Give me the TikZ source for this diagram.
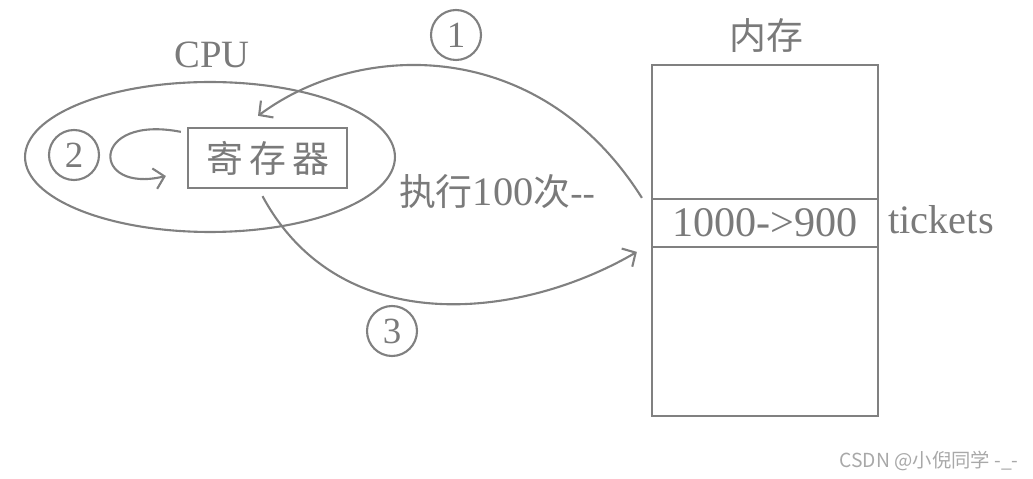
\documentclass[tikz,border=0pt]{standalone}
\usepackage{fontspec}
\usepackage{xcolor}
\usepackage{tikz}
\usetikzlibrary{arrows.meta,shapes.geometric}
\setmainfont{Liberation Serif}
\newfontfamily\cjk{Noto Sans CJK SC}
\definecolor{linegray}{HTML}{808080}
\definecolor{textgray}{HTML}{7A7A7A}
\definecolor{markgray}{HTML}{A8A8A8}
\tikzset{
  lbl/.style={text=textgray,font=\fontsize{22}{24}\selectfont,inner sep=0pt},
  numcirc/.style={circle,draw=linegray,line width=1.2pt,minimum size=1cm,inner sep=0pt,
    text=textgray,font=\fontsize{21}{22}\selectfont},
  cell/.style={draw=linegray,line width=1.3pt,minimum width=4.52cm,inner sep=0pt},
  conn/.style={linegray,line width=1.2pt,-{Straight Barb[length=0.2cm,width=0.42cm]}}
}

\begin{document}
\begin{tikzpicture}[x=0.02cm,y=-0.02cm]
    \useasboundingbox (0,0) rectangle (1033,479);
    % cpu side
    \node[ellipse,draw=linegray,line width=1.2pt,minimum width=7.4cm,minimum height=3cm] (cpu) at (210,157) {};
    \node[lbl] (cpulbl) at (212,55) {CPU};
    \node[draw=linegray,line width=1.3pt,minimum width=3.18cm,minimum height=1.2cm,text=textgray,
      font=\cjk\fontsize{21}{24}\selectfont] (reg) at (267.5,158) {寄\,存\,器};
    \node[numcirc] (n2) at (74,155) {2};
    \draw[conn] ([shift={(-0.12cm,-0.1cm)}]reg.north west) .. controls (90,114) and (90,194) .. ([shift={(-0.42cm,-0.36cm)}]reg.west);
    % memory
    \node[cell,minimum height=2.68cm] (memtop) at (765,132) {};
    \node[cell,minimum height=0.96cm,text=textgray,font=\fontsize{24}{26}\selectfont] (tickcell) at (765,223) {1000->900};
    \node[cell,minimum height=3.38cm] (membot) at (765,331.5) {};
    \node[lbl,font=\cjk\fontsize{21}{24}\selectfont] (memlbl) at (766,36) {内存};
    \node[lbl,anchor=west,font=\fontsize{23}{24}\selectfont] (ticklbl) at (888,220) {tickets};
    % read / write arrows
    \node[numcirc] (n1) at (456,35) {1};
    \node[numcirc] (n3) at (392,331) {3};
    \draw[conn] ([xshift=-0.18cm]tickcell.north west) .. controls (540,36) and (360,40) .. ([shift={(-0.19cm,0.22cm)}]reg.north);
    \draw[conn] ([shift={(-0.1cm,-0.14cm)}]reg.south) .. controls (340,340) and (520,320) .. ([shift={(-0.28cm,-0.12cm)}]membot.north west);
    \node[lbl,font=\cjk\fontsize{21}{24}\selectfont] (loop) at (497,192) {执行{\rmfamily\fontsize{23}{24}\selectfont 100}次{\rmfamily -{}-}};
    \node[text=markgray,font=\cjk\fontsize{11}{13}\selectfont,inner sep=0pt] (mark) at (929,461) {CSDN @小倪同学 -\_-};
\end{tikzpicture}
\end{document}
